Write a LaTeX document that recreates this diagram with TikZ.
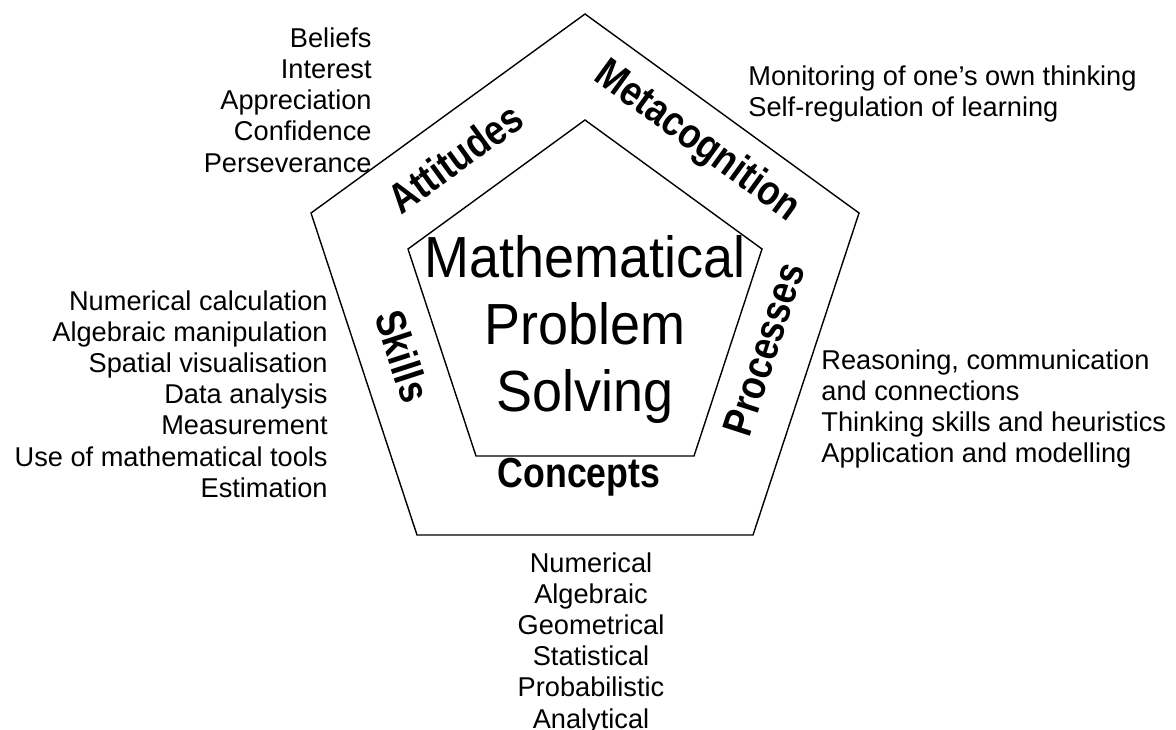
\documentclass[tikz,border=0pt]{standalone}
\usepackage{fontspec}
\setmainfont{Liberation Sans}
\usepackage{graphicx}
\usepackage{tikz}
\newcommand{\narrowtext}[1]{\scalebox{0.85}[1]{#1}}
\tikzset{pent/.style={black, line width=0.7pt, line join=miter},
         dim label/.style={font=\fontsize{21}{24}\selectfont\bfseries, inner sep=0pt, rotate=#1},
         title text/.style={font=\fontsize{29}{33.5}\selectfont, align=center, inner sep=0pt, xscale=0.93},
         list text/.style={font=\fontsize{13.6}{15.6}\selectfont, inner sep=0pt}}

\begin{document}
\begin{tikzpicture}[x=0.5pt, y=-0.5pt]
\useasboundingbox (0,0) rectangle (1176,729);

% outer and inner pentagon
\draw[pent] (585,14) -- (859,213) -- (753,535) -- (417,535) -- (311,213) -- cycle;
\draw[pent] (585,120) -- (762,249) -- (694,456) -- (476,456) -- (408,249) -- cycle;

\node[title text] (mps) at (585,329) {Mathematical\\Problem\\Solving};

% the five components
\node[dim label=36]  (attitudes) at (455,158) {\narrowtext{Attitudes}};
\node[dim label=-36] (metacog)   at (697,142) {\narrowtext{Metacognition}};
\node[dim label=72]  (processes) at (764,349) {\narrowtext{Processes}};
\node[dim label=-72] (skills)    at (403,356) {\narrowtext{Skills}};
\node[dim label=0]   (concepts)  at (579,477) {\narrowtext{Concepts}};

% what each component covers
\node[list text, anchor=east, align=right] (attlist) at (372,100)
  {Beliefs\\Interest\\Appreciation\\Confidence\\Perseverance};
\node[list text, anchor=west, align=left] (metalist) at (748,94)
  {Monitoring of one’s own thinking\\Self-regulation of learning};
\node[list text, anchor=east, align=right] (skilllist) at (328,394)
  {Numerical calculation\\Algebraic manipulation\\Spatial visualisation\\Data analysis\\Measurement\\Use of mathematical tools\\Estimation};
\node[list text, anchor=west, align=left] (proclist) at (821,409)
  {Reasoning, communication\\and connections\\Thinking skills and heuristics\\Application and modelling};
\node[list text, anchor=north, align=center] (conclist) at (591,552)
  {Numerical\\Algebraic\\Geometrical\\Statistical\\Probabilistic\\Analytical};
\end{tikzpicture}
\end{document}
